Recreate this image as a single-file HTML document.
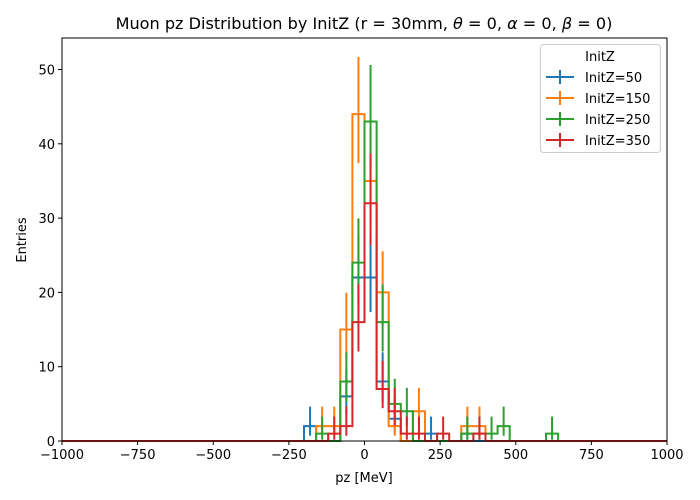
<!DOCTYPE html>
<html><head><meta charset="utf-8"><style>
body{margin:0;background:#fff;}
svg{display:block;font-family:"DejaVu Sans","Liberation Sans",sans-serif;}
</style></head><body>
<svg id="chart" width="700" height="500">
<text x="364" y="29" text-anchor="middle" font-size="16.1">Muon pz Distribution by InitZ (r = 30mm, <tspan font-style="italic">θ</tspan> = 0, <tspan font-style="italic">α</tspan> = 0, <tspan font-style="italic">β</tspan> = 0)</text>
<g id="plot"></g>
<rect x="62" y="38" width="605" height="403" fill="none" stroke="#000" stroke-width="1"/>
<g id="axes"></g>
<text x="364" y="482" text-anchor="middle" font-size="13">pz [MeV]</text>
<text x="26" y="240" text-anchor="middle" font-size="13" transform="rotate(-90 26 240)">Entries</text>
<g>
<rect x="540.5" y="44.5" width="120" height="108" rx="3" fill="#fff" fill-opacity="0.8" stroke="#ccc"/>
<text x="600" y="61" text-anchor="middle" font-size="13">InitZ</text>
<g id="legend-entries"></g>
</g>
</svg>
<script>
const binStart = -1000, binWidth = 40, nBins = 50;
const seriesNames = ["InitZ=50","InitZ=150","InitZ=250","InitZ=350"];
const seriesColors = ["#1f77b4","#ff7f0e","#2ca02c","#d62728"];
const blueBins = [-200,-80,-40,0,40,80,200,320];
const blueCounts = [2,6,22,22,8,3,1,1];
const orangeBins = [-160,-120,-80,-40,0,40,80,160,320,360];
const orangeCounts = [2,2,15,44,35,20,2,4,2,2];
const greenBins = [-160,-80,-40,0,40,80,120,320,360,400,440,600];
const greenCounts = [1,8,24,43,16,5,4,1,1,1,2,1];
const redBins = [-120,-80,-40,0,40,80,120,160,240,360];
const redCounts = [1,2,16,32,7,4,1,1,1,1];
const xTicks = [-1000,-750,-500,-250,0,250,500,750,1000];
const yTicks = [0,10,20,30,40,50];

const NS="http://www.w3.org/2000/svg";
const X0=62,X1=667,Y0=441,Y1=38,XMIN=-1000,XMAX=1000,YMAX=54.24;
const xs=v=>X0+(v-XMIN)/(XMAX-XMIN)*(X1-X0);
const ys=v=>Y0-v/YMAX*(Y0-Y1);
function chi2q(k,z){if(k<=0)return 0;const a=2/(9*k);return k*Math.pow(1-a+z*Math.sqrt(a),3);}
function garwood(n){return [0.5*chi2q(2*n,-1), 0.5*chi2q(2*n+2,1)];}
function mk(tag,attrs,parent){const e=document.createElementNS(NS,tag);for(const k in attrs)e.setAttribute(k,attrs[k]);parent.appendChild(e);return e;}
const plot=document.getElementById('plot'), axes=document.getElementById('axes');
const all=[[blueBins,blueCounts],[orangeBins,orangeCounts],[greenBins,greenCounts],[redBins,redCounts]];
all.forEach(([bins,counts],si)=>{
  const full=new Array(nBins).fill(0);
  bins.forEach((b,i)=>{full[Math.round((b-binStart)/binWidth)]=counts[i];});
  let d=`M${xs(binStart)},${ys(full[0])}`;
  for(let i=0;i<nBins;i++){
    const l=binStart+i*binWidth;
    d+=` L${xs(l)},${ys(full[i])} L${xs(l+binWidth)},${ys(full[i])}`;
  }
  const g=mk('g',{},plot);
  
  
  const p=mk('path',{d:d,fill:'none',stroke:seriesColors[si],'stroke-width':2},g);
  
  
  full.forEach((n,i)=>{
    if(n<=0)return;
    const c=binStart+(i+0.5)*binWidth, [lo,hi]=garwood(n);
    const ln=mk('line',{x1:xs(c),x2:xs(c),y1:ys(lo),y2:ys(hi),stroke:seriesColors[si],'stroke-width':2},g);
    
    
  });
});
xTicks.forEach(t=>{
  const x=xs(t);
  const tk=mk('line',{x1:x,x2:x,y1:Y0,y2:Y0+4,stroke:'#000'},axes);
  
  
  const tx=mk('text',{x:x,y:Y0+18,'text-anchor':'middle','font-size':13},axes);
  tx.textContent=t<0?'\u2212'+(-t):String(t);
  
  
});
yTicks.forEach(t=>{
  const y=ys(t);
  const tk=mk('line',{x1:X0-4,x2:X0,y1:y,y2:y,stroke:'#000'},axes);
  
  
  const tx=mk('text',{x:X0-7,y:y+5,'text-anchor':'end','font-size':13},axes);
  tx.textContent=String(t);
  
  
});
const le=document.getElementById('legend-entries');
seriesNames.forEach((n,i)=>{
  const y=77+i*21;
  const g=mk('g',{},le);
  
  
  mk('line',{x1:546,x2:574,y1:y,y2:y,stroke:seriesColors[i],'stroke-width':2},g);
  mk('line',{x1:560,x2:560,y1:y-7,y2:y+7,stroke:seriesColors[i],'stroke-width':2},g);
  const t=mk('text',{x:585,y:y+5,'font-size':13},g);
  t.textContent=n;
});
</script>
</body></html>
